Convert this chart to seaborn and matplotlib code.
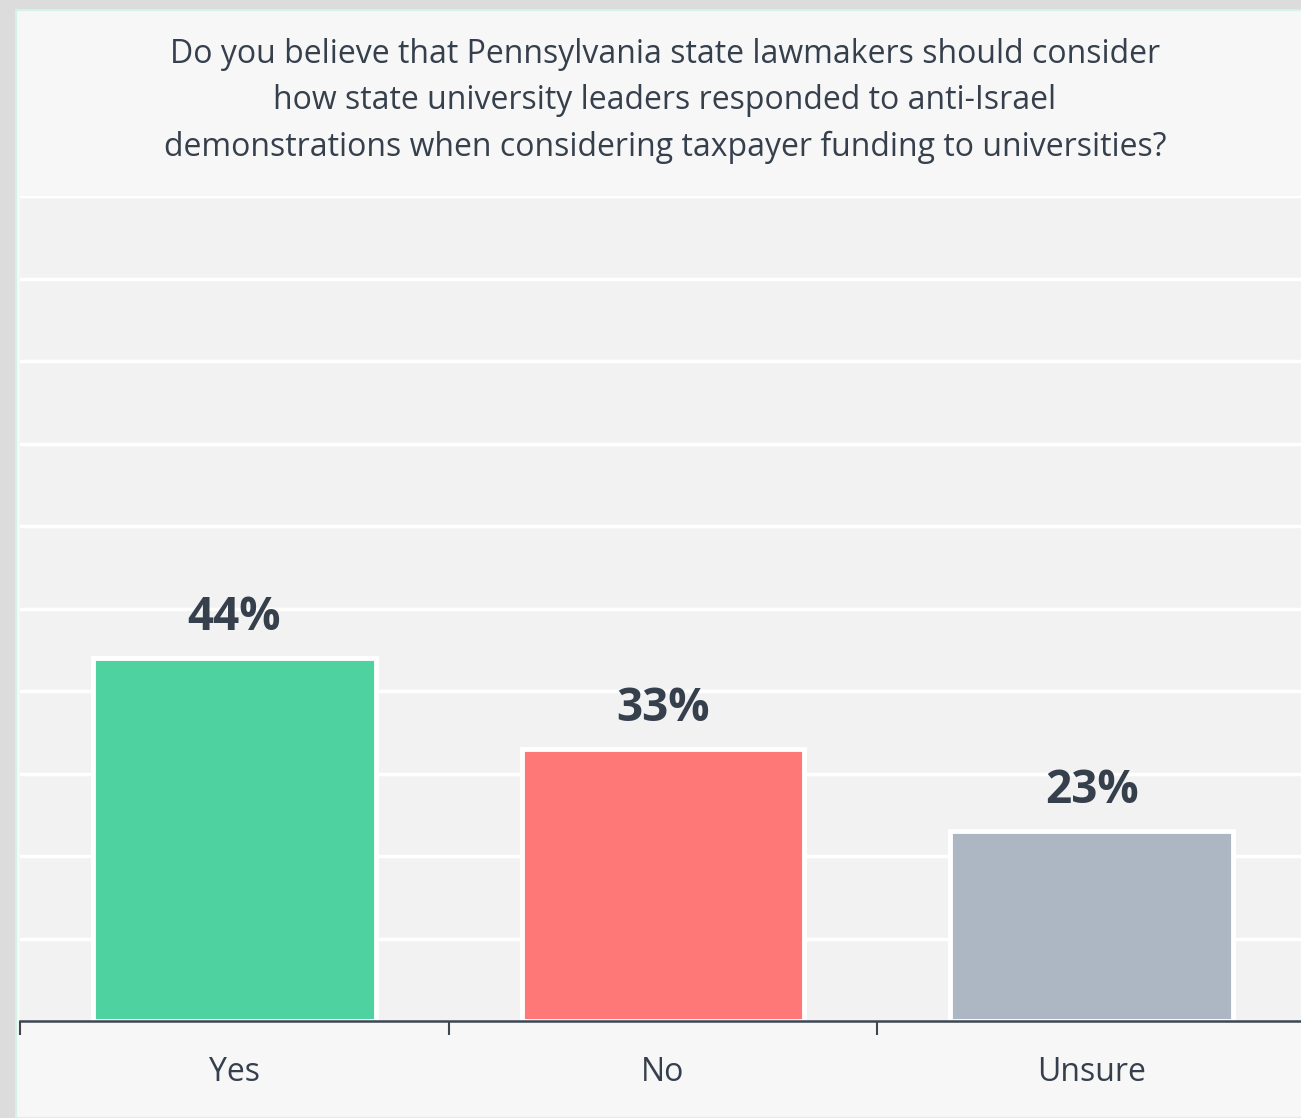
import matplotlib
matplotlib.use("Agg")
import matplotlib.pyplot as plt
import seaborn as sns
import pandas as pd
from matplotlib.patches import Rectangle

categories = ["Yes", "No", "Unsure"]
values = [44, 33, 23]
labels = ["44%", "33%", "23%"]
colors = ["#4dd2a0", "#ff7878", "#adb7c3"]
title = ("Do you believe that Pennsylvania state lawmakers should consider\n"
         "how state university leaders responded to anti-Israel\n"
         "demonstrations when considering taxpayer funding to universities?")

text_col = "#36404d"

sns.set_style("white")
plt.rcParams["font.family"] = ["Open Sans", "DejaVu Sans"]

W, H = 1301, 1118
fig = plt.figure(figsize=(W / 100, H / 100), dpi=100, facecolor="#dcdcdc")
# panel background with faint teal border
fig.patches.append(Rectangle((16 / W, 0), 1.0, (H - 10) / H, transform=fig.transFigure,
                             facecolor="#f7f7f7", edgecolor="#d3f3e6", linewidth=1.5, zorder=-10))

ax = fig.add_axes([20 / W, 97 / H, 1286 / W, 825 / H])
ax.set_facecolor("#f2f2f2")

df = pd.DataFrame({"cat": categories, "val": values})
sns.barplot(data=df, x="cat", y="val", hue="cat", palette=colors, legend=False,
            width=0.66, edgecolor="white", linewidth=3.5, saturation=1, ax=ax, zorder=3)

ax.set_xlim(-0.5, 2.5)
ax.set_ylim(0, 100)
ax.set_yticks(range(10, 101, 10))
ax.yaxis.grid(True, color="white", linewidth=2.5, zorder=0)
ax.set_axisbelow(True)
ax.tick_params(axis="y", left=False, labelleft=False)
ax.set_xlabel("")
ax.set_ylabel("")

ax.set_xticks(range(len(categories)))
ax.set_xticklabels(categories, fontsize=23, color=text_col)
ax.tick_params(axis="x", which="major", length=0, pad=25)
ax.set_xticks([-0.5, 0.5, 1.5, 2.5], minor=True)
ax.tick_params(axis="x", which="minor", bottom=True, length=10, width=1.5,
               color="#3d4651", direction="out")

for s in ["top", "right", "left"]:
    ax.spines[s].set_visible(False)
ax.spines["bottom"].set_color("#3d4651")
ax.spines["bottom"].set_linewidth(1.8)
ax.spines["bottom"].set_zorder(5)

for i, (v, lab) in enumerate(zip(values, labels)):
    ax.annotate(lab, (i, v), xytext=(0, 20), textcoords="offset points",
                ha="center", va="baseline", fontsize=33, fontweight="bold",
                color=text_col, zorder=6)

fig.text(665 / W, 1 - 101 / H, title, ha="center", va="center", fontsize=23,
         color=text_col, linespacing=1.55)

fig.savefig("out.png", dpi=100, facecolor=fig.get_facecolor())
